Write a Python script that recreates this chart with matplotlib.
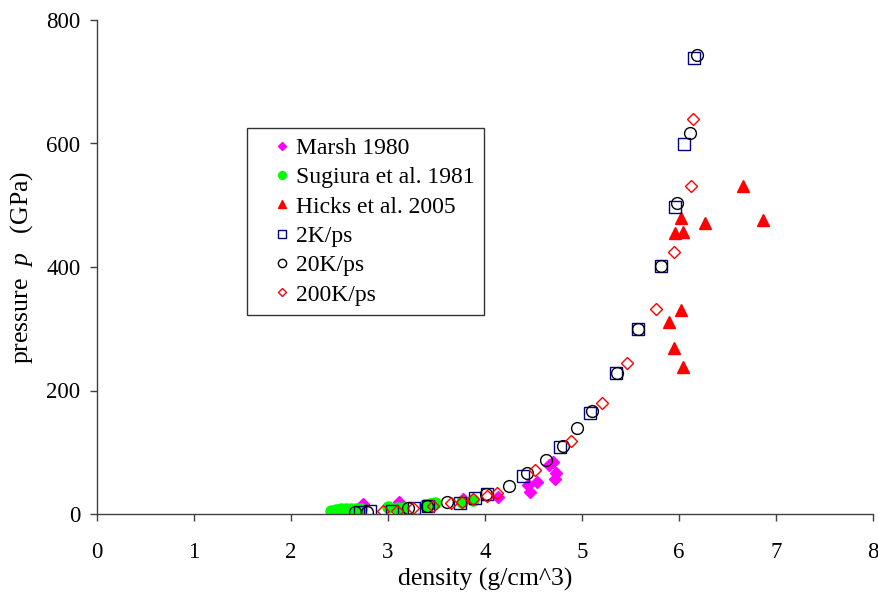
import matplotlib
matplotlib.use("Agg")
import matplotlib.pyplot as plt

plt.rcParams['font.family'] = ['Liberation Serif', 'DejaVu Serif']
plt.rcParams['mathtext.fontset'] = 'custom'
plt.rcParams['mathtext.it'] = 'Liberation Serif:italic'
plt.rcParams['mathtext.rm'] = 'Liberation Serif'

marsh_x = [2.739, 3.113, 3.776, 4.137, 4.446, 4.464, 4.533, 4.663, 4.704, 4.732, 4.722]
marsh_y = [16.2, 19.9, 23.8, 28.0, 47.0, 36.1, 52.3, 79.4, 84.7, 66.9, 56.2]

sugiura_x = [2.412, 2.464, 2.515, 2.567, 2.619, 2.670, 2.722, 3.000, 3.103, 3.155,
             3.381, 3.433, 3.485, 3.763, 3.876]
sugiura_y = [4.9, 6.5, 8.1, 8.9, 8.9, 8.9, 8.1, 11.3, 9.7, 10.5, 14.6, 16.2, 18.6, 19.4, 21.9]

hicks_x = [5.894, 6.025, 5.953, 6.045, 5.963, 6.045, 6.022, 6.269, 6.862, 6.664]
hicks_y = [311.3, 330.3, 268.3, 237.5, 454.4, 457.0, 478.7, 470.6, 476.0, 531.5]

k2_x = [2.711, 2.814, 3.041, 3.268, 3.412, 3.742, 3.897, 4.024, 4.389, 4.773, 5.082,
        5.351, 5.574, 5.811, 5.959, 6.052, 6.158]
k2_y = [3.2, 4.9, 4.9, 9.7, 13.0, 17.3, 25.4, 32.4, 62.0, 109.0, 163.1, 227.9, 299.6,
        402.1, 497.6, 598.7, 738.0]

k20_x = [2.660, 2.780, 3.206, 3.402, 3.605, 4.010, 4.251, 4.436, 4.629, 4.799, 4.945,
         5.106, 5.361, 5.574, 5.814, 5.976, 6.113, 6.189]
k20_y = [2.8, 3.7, 9.2, 13.0, 18.9, 32.4, 45.8, 65.9, 87.4, 110.9, 139.3, 167.6, 229.1,
         299.6, 402.1, 503.2, 616.5, 743.3]

k200_x = [2.945, 3.090, 3.258, 3.467, 3.646, 3.760, 3.879, 4.024, 4.121, 4.515, 4.884,
          5.209, 5.467, 5.760, 5.952, 6.127, 6.141]
k200_y = [5.3, 5.3, 9.2, 13.0, 17.3, 19.9, 23.8, 29.6, 34.0, 71.3, 118.7, 179.8, 245.0,
          331.5, 424.8, 531.7, 639.7]

labels = ["Marsh 1980", "Sugiura et al. 1981", "Hicks et al. 2005", "2K/ps", "20K/ps", "200K/ps"]

fig = plt.figure(figsize=(8.79, 5.95), dpi=100)
ax = fig.add_axes([97/879, 1-514/595, 776/879, 494/595])

ax.plot(marsh_x, marsh_y, linestyle='none', marker='D', ms=6.5, mfc='#FF00FF', mec='#FF00FF', label=labels[0])
ax.plot(sugiura_x, sugiura_y, linestyle='none', marker='o', ms=8, mfc='#00FF00', mec='#00FF00', label=labels[1])
ax.plot(hicks_x, hicks_y, linestyle='none', marker='^', ms=9, mfc='#FF0000', mec='#FF0000', label=labels[2])
ax.plot(k2_x, k2_y, linestyle='none', marker='s', ms=8, mfc='none', mec='#000080', mew=1.0, label=labels[3])
ax.plot(k20_x, k20_y, linestyle='none', marker='o', ms=8.5, mfc='none', mec='black', mew=1.0, label=labels[4])
ax.plot(k200_x, k200_y, linestyle='none', marker='D', ms=6.5, mfc='none', mec='#FF0000', mew=1.0, label=labels[5])

ax.set_xlim(0, 8)
ax.set_ylim(0, 800)
ax.set_xticks(range(0, 9))
ax.set_yticks([0, 200, 400, 600, 800])
for s in ['top', 'right']:
    ax.spines[s].set_visible(False)
for s in ['left', 'bottom']:
    ax.spines[s].set_color('#404040')
    ax.spines[s].set_linewidth(1.0)
ax.tick_params(direction='out', length=5, width=1.0, color='#404040', labelsize=16.5)
ax.tick_params(axis='x', pad=15)
ax.tick_params(axis='y', pad=7)

ax.set_xlabel("density (g/cm^3)", fontsize=18.5, labelpad=4)
ax.set_ylabel("pressure  $p$   (GPa)", fontsize=18.5, labelpad=8)

leg = ax.legend(loc='upper left', bbox_to_anchor=(0.1933, 0.7814), fontsize=17,
                frameon=True, fancybox=False, shadow=False, markerscale=0.7,
                handlelength=2.16, handletextpad=-0.5, borderpad=0.4, labelspacing=0.33,
                borderaxespad=0)
leg.get_frame().set_edgecolor('black')
leg.get_frame().set_linewidth(1.0)

fig.savefig("out.png", dpi=100)
